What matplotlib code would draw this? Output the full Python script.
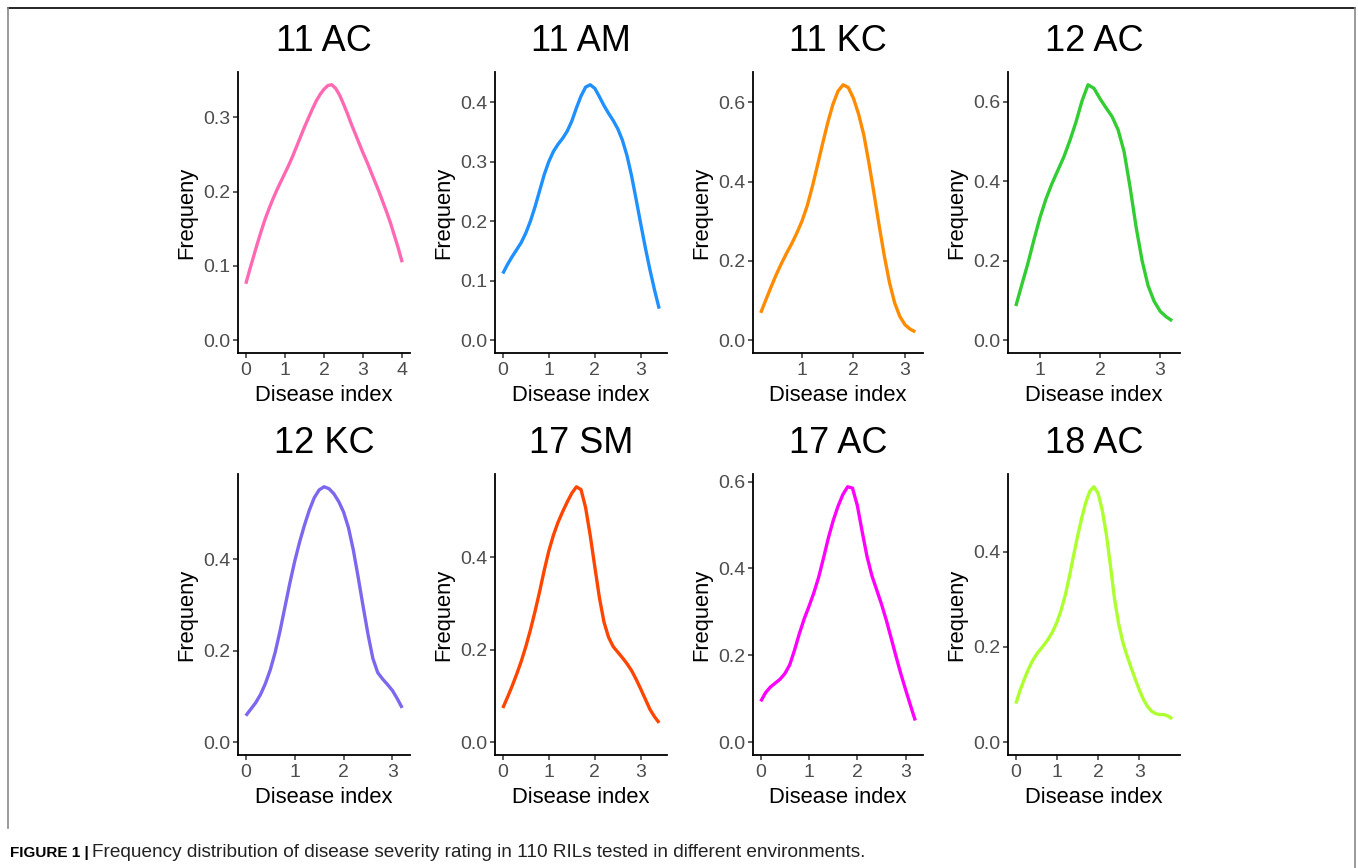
import matplotlib
matplotlib.use("Agg")
import numpy as np
import matplotlib.pyplot as plt
from matplotlib.lines import Line2D

plt.rcParams['font.family'] = ['Liberation Sans', 'DejaVu Sans']

titles = ["11 AC", "11 AM", "11 KC", "12 AC", "12 KC", "17 SM", "17 AC", "18 AC"]
colors = ["#FF69B4", "#1E90FF", "#FF8C00", "#32CD32",
          "#7B68EE", "#FF4500", "#FF00FF", "#ADFF2F"]

# density values read every 0.1 on the disease-index axis, starting at x_start
x_start = [0.0, 0.0, 0.2, 0.6, 0.0, 0.0, 0.0, 0.0]

y_11AC = [0.076, 0.095, 0.113, 0.131, 0.148, 0.164, 0.178, 0.191, 0.203, 0.214,
          0.225, 0.236, 0.248, 0.261, 0.274, 0.287, 0.299, 0.311, 0.322, 0.331,
          0.338, 0.343, 0.344, 0.339, 0.330, 0.318, 0.305, 0.291, 0.278, 0.265,
          0.252, 0.240, 0.227, 0.214, 0.201, 0.187, 0.173, 0.158, 0.141, 0.124, 0.105]

y_11AM = [0.112, 0.127, 0.140, 0.152, 0.164, 0.180, 0.200, 0.224, 0.251, 0.278,
          0.300, 0.317, 0.329, 0.339, 0.351, 0.368, 0.390, 0.410, 0.425, 0.429,
          0.423, 0.409, 0.394, 0.381, 0.369, 0.355, 0.336, 0.310, 0.276, 0.236,
          0.195, 0.155, 0.118, 0.084, 0.053]

y_11KC = [0.069, 0.102, 0.134, 0.165, 0.193, 0.219, 0.243, 0.270, 0.300, 0.338,
          0.386, 0.440, 0.495, 0.548, 0.594, 0.628, 0.644, 0.637, 0.610, 0.570,
          0.518, 0.447, 0.369, 0.288, 0.212, 0.145, 0.094, 0.060, 0.039, 0.028, 0.021]

y_12AC = [0.086, 0.140, 0.193, 0.252, 0.308, 0.355, 0.394, 0.428, 0.462, 0.503,
          0.549, 0.602, 0.643, 0.634, 0.608, 0.585, 0.563, 0.530, 0.475, 0.385,
          0.285, 0.200, 0.137, 0.098, 0.073, 0.059, 0.049]

y_12KC = [0.058, 0.072, 0.086, 0.104, 0.128, 0.158, 0.196, 0.243, 0.295, 0.347,
          0.395, 0.437, 0.474, 0.507, 0.534, 0.551, 0.558, 0.554, 0.543, 0.526,
          0.503, 0.469, 0.420, 0.360, 0.297, 0.236, 0.183, 0.152, 0.138, 0.126,
          0.113, 0.095, 0.075]

y_17SM = [0.074, 0.097, 0.121, 0.147, 0.175, 0.207, 0.243, 0.283, 0.326, 0.372,
          0.414, 0.448, 0.476, 0.499, 0.520, 0.539, 0.553, 0.547, 0.508, 0.448,
          0.380, 0.313, 0.260, 0.227, 0.207, 0.195, 0.183, 0.170, 0.155, 0.136,
          0.115, 0.093, 0.071, 0.055, 0.042]

y_17AC = [0.094, 0.114, 0.127, 0.136, 0.145, 0.158, 0.178, 0.212, 0.250, 0.284,
          0.313, 0.344, 0.380, 0.424, 0.470, 0.510, 0.543, 0.570, 0.588, 0.585,
          0.545, 0.485, 0.428, 0.384, 0.351, 0.318, 0.281, 0.240, 0.198, 0.158,
          0.121, 0.085, 0.050]

y_18AC = [0.081, 0.108, 0.131, 0.152, 0.170, 0.184, 0.195, 0.206, 0.218, 0.233,
          0.252, 0.277, 0.308, 0.347, 0.390, 0.432, 0.470, 0.503, 0.527, 0.536,
          0.522, 0.487, 0.436, 0.370, 0.300, 0.248, 0.210, 0.182, 0.157, 0.133,
          0.110, 0.090, 0.075, 0.065, 0.060, 0.058, 0.058, 0.055, 0.049]

ys = [y_11AC, y_11AM, y_11KC, y_12AC, y_12KC, y_17SM, y_17AC, y_18AC]

xticks = [[0, 1, 2, 3, 4], [0, 1, 2, 3], [1, 2, 3], [1, 2, 3],
          [0, 1, 2, 3], [0, 1, 2, 3], [0, 1, 2, 3], [0, 1, 2, 3]]
yticks = [[0.0, 0.1, 0.2, 0.3], [0.0, 0.1, 0.2, 0.3, 0.4], [0.0, 0.2, 0.4, 0.6], [0.0, 0.2, 0.4, 0.6],
          [0.0, 0.2, 0.4], [0.0, 0.2, 0.4], [0.0, 0.2, 0.4, 0.6], [0.0, 0.2, 0.4]]

W, H = 1358, 868
fig = plt.figure(figsize=(W / 100, H / 100), dpi=100)

lefts = [238, 495, 753, 1008]
rights = [410, 667, 923, 1180]
tops = [72, 474]
bottoms = [353, 755]

for i in range(8):
    r, c = divmod(i, 4)
    l, rt = lefts[c], rights[c]
    tp, bt = tops[r], bottoms[r]
    ax = fig.add_axes([l / W, 1 - bt / H, (rt - l) / W, (bt - tp) / H])
    y = np.array(ys[i])
    x = np.round(x_start[i] + 0.1 * np.arange(len(y)), 2)
    ax.plot(x, y, color=colors[i], lw=2.4, solid_capstyle='butt', solid_joinstyle='round')
    xr = x.max() - x.min()
    ax.set_xlim(x.min() - 0.05 * xr, x.max() + 0.05 * xr)
    ym = y.max()
    ax.set_ylim(-0.05 * ym, ym * 1.05)
    ax.set_xticks(xticks[i])
    ax.set_xticklabels([str(t) for t in xticks[i]])
    ax.set_yticks(yticks[i])
    ax.set_yticklabels([f"{t:.1f}" for t in yticks[i]])
    for s in ['top', 'right']:
        ax.spines[s].set_visible(False)
    for s in ['left', 'bottom']:
        ax.spines[s].set_linewidth(1.3)
        ax.spines[s].set_color('black')
    ax.tick_params(axis='both', length=3.6, width=1.1, color='#333333',
                   labelsize=14, labelcolor='#4D4D4D', pad=3)
    ax.tick_params(axis='y', pad=2)
    ax.set_xlabel("Disease index", fontsize=15.8, labelpad=4)
    ax.set_ylabel("Frequeny", fontsize=15.8, labelpad=4)
    ax.set_title(titles[i], fontsize=26, pad=15)

# border lines
fig.add_artist(Line2D([8 / W, 1355 / W], [1 - 8 / H, 1 - 8 / H], color='black', lw=1.2, transform=fig.transFigure))
fig.add_artist(Line2D([8 / W, 8 / W], [1 - 8 / H, 1 - 828 / H], color='#888888', lw=1.2, transform=fig.transFigure))
fig.add_artist(Line2D([1355 / W, 1355 / W], [1 - 8 / H, 0], color='#888888', lw=1.2, transform=fig.transFigure))

cap_font = ['Liberation Sans Narrow', 'Liberation Sans', 'DejaVu Sans']
t1 = fig.text(10 / W, 1 - 857 / H, "FIGURE 1 |", fontsize=11, fontweight='bold', family=cap_font, va='baseline')
fig.canvas.draw()
bb = t1.get_window_extent()
fig.text((bb.x1 + 3) / W, 1 - 857 / H, "Frequency distribution of disease severity rating in 110 RILs tested in different environments.",
         fontsize=13.7, family=cap_font, va='baseline', color='#222222')

fig.savefig("out.png", dpi=100)
